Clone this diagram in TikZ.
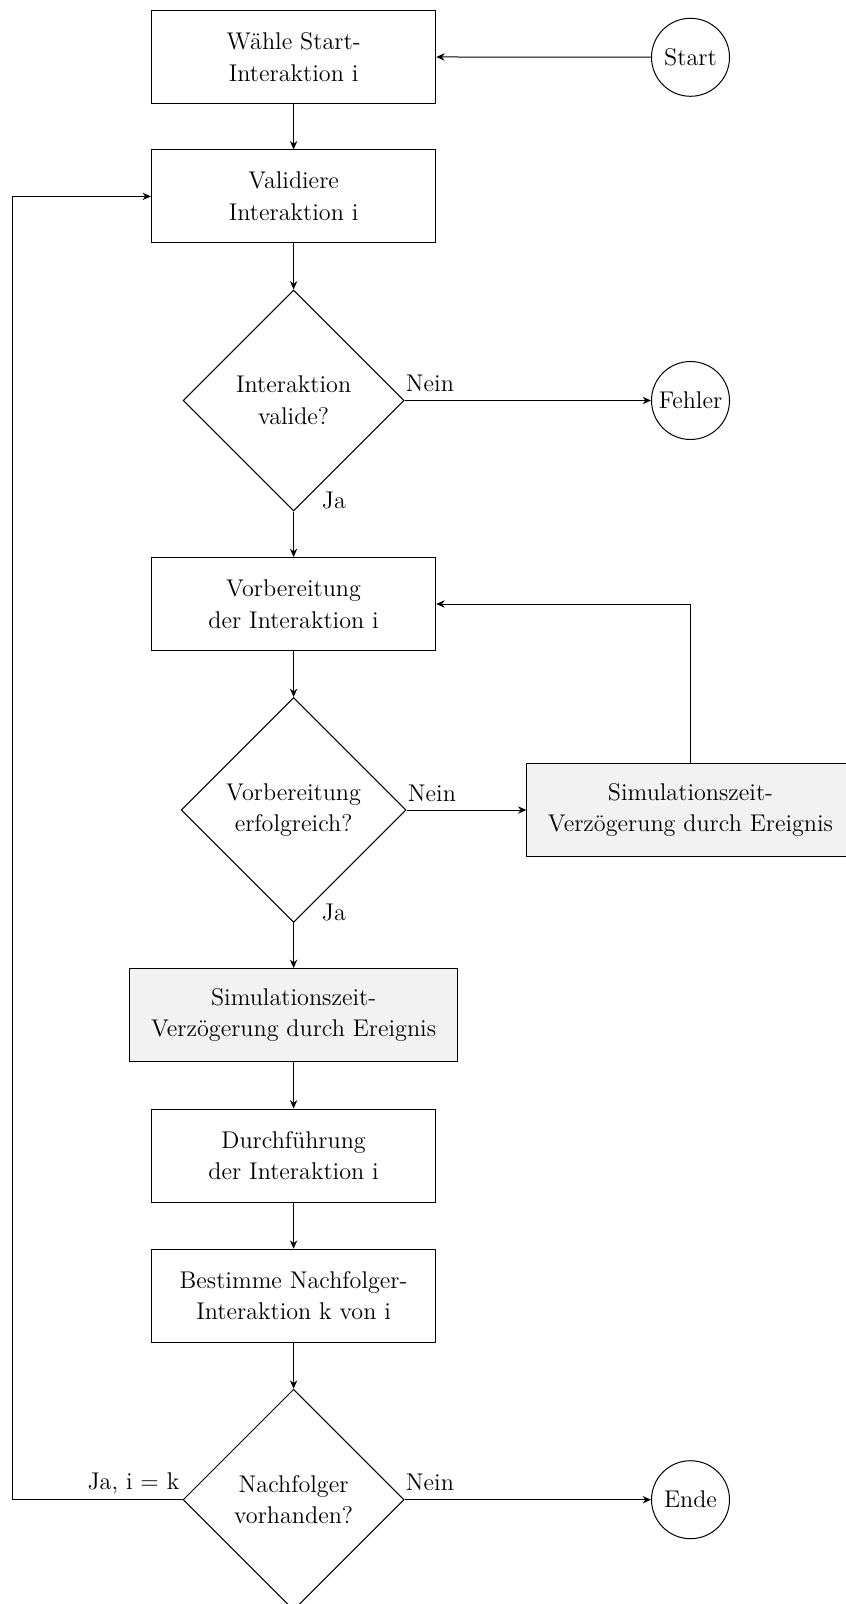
\documentclass[tikz,border=0pt]{standalone}
\usetikzlibrary{shapes.geometric,arrows.meta}
\begin{document}
\begin{tikzpicture}[x=0.6pt,y=-0.6pt,
  every node/.style={font=\fontsize{14.5}{19}\selectfont},
  base/.style={draw, line width=0.6pt, inner sep=0pt, align=center},
  procbox/.style={base, rectangle, minimum width=170.6pt, minimum height=55.8pt},
  delaybox/.style={base, rectangle, fill=black!5, minimum width=196.4pt, minimum height=55.8pt},
  decision/.style={base, diamond, minimum width=132.6pt, minimum height=132.6pt},
  terminal/.style={base, circle, minimum size=46.8pt},
  flow/.style={line width=0.6pt, -{Stealth[length=5pt,width=4.4pt,inset=1.6pt]}},
  branch/.style={font=\fontsize{14.5}{19}\selectfont, inner sep=0pt}
]
\useasboundingbox (0,0) rectangle (845,1604);

% main column
\node[procbox]  (pick)   at (293.6,56.8)   {Wähle Start-\\Interaktion i};
\node[procbox]  (valid)  at (293.6,196.4)  {Validiere\\Interaktion i};
\node[decision] (isval)  at (293.6,400.5)  {Interaktion\\valide?};
\node[procbox]  (prep)   at (293.6,604)    {Vorbereitung\\der Interaktion i};
\node[decision, minimum width=135pt, minimum height=135pt] (prepok) at (293.6,810) {Vorbereitung\\erfolgreich?};
\node[delaybox] (delayL) at (293.6,1015)   {Simulationszeit-\\Verzögerung durch Ereignis};
\node[procbox]  (exec)   at (293.6,1155.5) {Durchführung\\der Interaktion i};
\node[procbox]  (next)   at (293.6,1295.7) {Bestimme Nachfolger-\\Interaktion k von i};
\node[decision] (hasnext) at (293.6,1499.7) {Nachfolger\\vorhanden?};

% right column
\node[terminal] (start)  at (690.5,57.3)   {Start};
\node[terminal] (err)    at (690.5,400.5)  {Fehler};
\node[delaybox] (delayR) at (690.5,810)    {Simulationszeit-\\Verzögerung durch Ereignis};
\node[terminal] (stop)   at (690.5,1499.7) {Ende};

\coordinate (loop) at (12.3,1499.7);

% connectors
\draw[flow] (start) -- (pick);
\draw[flow] (pick) -- (valid);
\draw[flow] (valid) -- (isval);
\draw[flow] (isval.east) -- (err);
\draw[flow] (isval.south) -- (prep);
\draw[flow] (prep) -- (prepok);
\draw[flow] (prepok.east) -- (delayR);
\draw[flow] (delayR.north) |- (prep.east);
\draw[flow] (prepok.south) -- (delayL);
\draw[flow] (delayL) -- (exec);
\draw[flow] (exec) -- (next);
\draw[flow] (next) -- (hasnext);
\draw[flow] (hasnext.east) -- (stop);
\draw[flow] (hasnext.west) -- (loop) |- (valid.west);

% branch labels
\node[branch, anchor=base west] (l1) at ([shift={(1,-9)}]isval.east) {Nein};
\node[branch, anchor=base west] (l2) at ([shift={(28,-3)}]isval.south) {Ja};
\node[branch, anchor=base west] (l3) at ([shift={(1,-9)}]prepok.east) {Nein};
\node[branch, anchor=base west] (l4) at ([shift={(28,-3)}]prepok.south) {Ja};
\node[branch, anchor=base west] (l5) at ([shift={(1,-9)}]hasnext.east) {Nein};
\node[branch, anchor=base east] (l6) at ([shift={(-3,-10)}]hasnext.west) {Ja, i = k};
\end{tikzpicture}
\end{document}
